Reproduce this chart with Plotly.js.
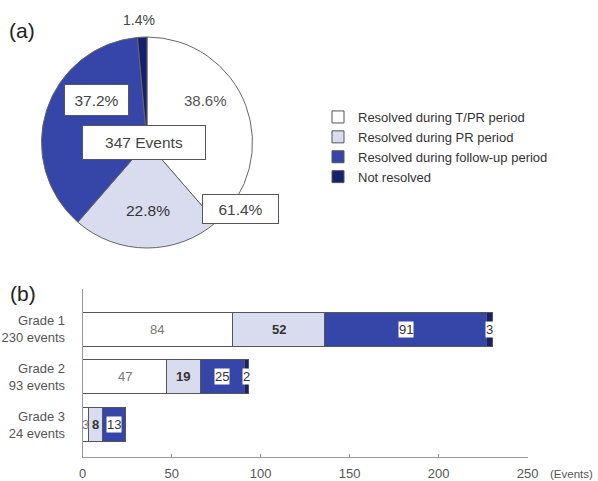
<!DOCTYPE html>
<html>
<head>
<meta charset="utf-8">
<script src="https://cdn.plot.ly/plotly-3.0.1.min.js"></script>
<style>html,body{margin:0;padding:0;background:#fff;}#chart{width:598px;height:481px;}</style>
</head>
<body>
<div id="chart"></div>
<script>
// ---- data ----
var seriesNames = ['Resolved during T/PR period', 'Resolved during PR period', 'Resolved during follow-up period', 'Not resolved'];
var seriesColors = ['#ffffff', '#d9dcee', '#3646a8', '#16216e'];
var gradeLabels = ['Grade 1', 'Grade 2', 'Grade 3'];
var tprValues = [84, 47, 3];
var prValues = [52, 19, 8];
var followValues = [91, 25, 13];
var notResolvedValues = [3, 2, 0];
var xTickVals = [0, 50, 100, 150, 200, 250];

// ---- derived ----
var seriesValues = [tprValues, prValues, followValues, notResolvedValues];
var gradeTotals = gradeLabels.map(function (g, i) {
  return seriesValues.reduce(function (s, arr) { return s + arr[i]; }, 0);
});
var pieValues = seriesValues.map(function (arr) { return arr.reduce(function (a, b) { return a + b; }, 0); });
var totalEvents = pieValues.reduce(function (a, b) { return a + b; }, 0);
function pct(v) { return (v / totalEvents * 100).toFixed(1) + '%'; }

var W = 598, H = 481;
function px(x) { return x / W; }
function py(y) { return 1 - y / H; }

var font = 'Arial, "Liberation Sans", sans-serif';
var yIdx = [0, 1, 2];

var traces = [];
traces.push({
  type: 'pie',
  values: pieValues,
  labels: seriesNames,
  sort: false,
  direction: 'clockwise',
  rotation: 0,
  textinfo: 'none',
  hoverinfo: 'none',
  showlegend: false,
  marker: { colors: seriesColors, line: { color: '#666', width: 1 } },
  domain: { x: [px(41), px(253)], y: [py(248), py(37)] }
});

seriesValues.forEach(function (vals, k) {
  traces.push({
    type: 'bar',
    orientation: 'h',
    name: seriesNames[k],
    x: vals,
    y: yIdx,
    marker: { color: seriesColors[k], line: { color: '#555', width: 1 } },
    hoverinfo: 'none',
    xaxis: 'x', yaxis: 'y'
  });
});

var annotations = [];
// bar labels
var labelStyles = [
  { color: '#777', bg: null, weight: 'normal' },
  { color: '#333', bg: null, weight: 'bold' },
  { color: '#333', bg: '#ffffff', weight: 'normal' },
  { color: '#333', bg: '#ffffff', weight: 'normal' }
];
gradeLabels.forEach(function (g, i) {
  var start = 0;
  seriesValues.forEach(function (vals, k) {
    var v = vals[i];
    if (v > 0) {
      var st = labelStyles[k];
      var a = {
        x: start + v / 2, y: i, xref: 'x', yref: 'y',
        xanchor: 'center', yanchor: 'middle',
        text: String(v), showarrow: false,
        font: { family: font, size: 13, color: st.color, weight: st.weight },
        borderpad: 0
      };
      if (st.bg) { a.bgcolor = st.bg; }
      annotations.push(a);
    }
    start += v;
  });
});

// pie labels
function plain(text, x, y, size, color, xanchor) {
  return { text: text, x: px(x), y: py(y), xref: 'paper', yref: 'paper', showarrow: false,
    xanchor: xanchor || 'center', yanchor: 'middle',
    font: { family: font, size: size, color: color } };
}
function boxed(text, x, y, w, h) {
  return { text: text, x: px(x), y: py(y), xref: 'paper', yref: 'paper', showarrow: false,
    xanchor: 'center', yanchor: 'middle',
    width: w, height: h, bgcolor: '#ffffff', bordercolor: '#555', borderwidth: 1,
    font: { family: font, size: 15.5, color: '#444' } };
}
annotations.push(plain('(a)', 22, 30, 21, '#222'));
annotations.push(plain('(b)', 23, 293, 21, '#222'));
annotations.push(plain(pct(pieValues[3]), 139, 20, 14, '#444'));
annotations.push(plain(pct(pieValues[0]), 205, 100, 15, '#555'));
annotations.push(plain(pct(pieValues[1]), 148, 210, 15.5, '#333'));
annotations.push(boxed(pct(pieValues[2]), 96.5, 100, 61, 28));
annotations.push(boxed(totalEvents + ' Events', 144, 142.5, 120, 31));
annotations.push(boxed(pct(pieValues[0] + pieValues[1]), 240.5, 209, 73, 26));
annotations.push(plain('(Events)', 548, 474, 11.5, '#555', 'left'));

var layout = {
  width: W, height: H,
  margin: { l: 0, r: 0, t: 0, b: 0 },
  paper_bgcolor: '#fff', plot_bgcolor: 'rgba(0,0,0,0)',
  font: { family: font, color: '#555' },
  barmode: 'stack',
  bargap: 0.29,
  showlegend: true,
  legend: {
    x: px(318), y: py(102), xanchor: 'left', yanchor: 'top',
    traceorder: 'normal', itemwidth: 30,
    font: { family: font, size: 13, color: '#333' },
    bgcolor: 'rgba(0,0,0,0)'
  },
  xaxis: {
    domain: [px(82.7), px(527.7)],
    range: [0, 250],
    tickvals: xTickVals,
    ticks: 'inside', ticklen: 3, tickcolor: '#999',
    ticklabelstandoff: 4,
    showline: true, linecolor: '#999', linewidth: 1,
    showgrid: false, zeroline: false, automargin: false,
    tickfont: { family: font, size: 13, color: '#555' },
    anchor: 'y', fixedrange: true
  },
  yaxis: {
    domain: [py(457), py(289)],
    range: [2.68, -0.84],
    tickvals: yIdx,
    ticktext: gradeLabels.map(function (g, i) { return g + '<br>' + gradeTotals[i] + ' events'; }),
    ticks: '', ticklabelstandoff: 14,
    showline: true, linecolor: '#999', linewidth: 1,
    showgrid: false, zeroline: false, automargin: false,
    tickfont: { family: font, size: 13, color: '#555' },
    anchor: 'x', fixedrange: true
  },
  annotations: annotations
};

Plotly.newPlot('chart', traces, layout, { displayModeBar: false, staticPlot: true });
</script>
</body>
</html>
